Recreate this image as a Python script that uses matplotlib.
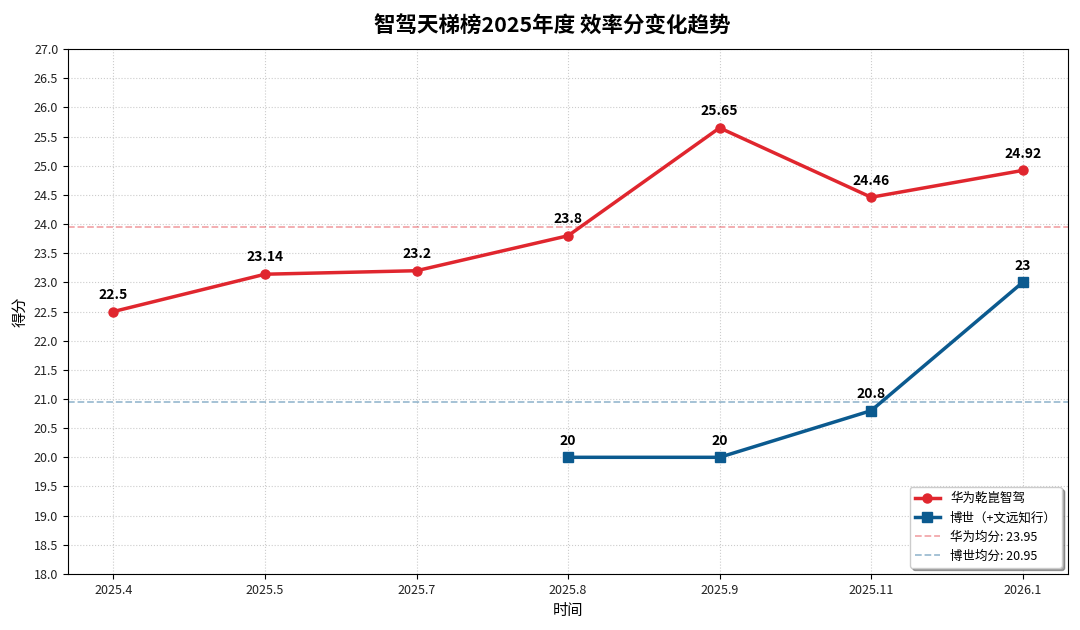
import matplotlib
matplotlib.use("Agg")
import matplotlib.pyplot as plt
import numpy as np

plt.rcParams['font.family'] = ['Noto Sans CJK SC', 'DejaVu Sans']

periods = ["2025.4", "2025.5", "2025.7", "2025.8", "2025.9", "2025.11", "2026.1"]
huawei = [22.5, 23.14, 23.2, 23.8, 25.65, 24.46, 24.92]
bosch = [np.nan, np.nan, np.nan, 20.0, 20.0, 20.8, 23.0]
huawei_label = "华为乾崑智驾"
bosch_label = "博世（+文远知行）"
huawei_avg = 23.95
bosch_avg = 20.95

red = '#e0262e'
blue = '#0b5a8f'

fig = plt.figure(figsize=(10.8, 6.3), dpi=100)
ax = fig.add_axes([0.063, 0.089, 0.926, 0.833])
x = np.arange(len(periods))

ax.plot(x, huawei, color=red, lw=2.5, marker='o', ms=6.5, label=huawei_label, zorder=3)
ax.plot(x, bosch, color=blue, lw=2.5, marker='s', ms=6.5, label=bosch_label, zorder=3)
ax.axhline(huawei_avg, color=red, ls='--', lw=1.3, alpha=0.4, label=f"华为均分: {huawei_avg}")
ax.axhline(bosch_avg, color=blue, ls='--', lw=1.3, alpha=0.4, label=f"博世均分: {bosch_avg}")

def fmt(v):
    return f"{v:g}"

for xi, v in zip(x, huawei):
    ax.annotate(fmt(v), (xi, v), xytext=(0, 7), textcoords='offset points',
                ha='center', va='bottom', fontsize=10, fontweight='bold')
for xi, v in zip(x, bosch):
    if not np.isnan(v):
        ax.annotate(fmt(v), (xi, v), xytext=(0, 7), textcoords='offset points',
                    ha='center', va='bottom', fontsize=10, fontweight='bold')

ax.set_xticks(x)
ax.set_xticklabels(periods)
ax.set_xlim(-0.3, 6.3)
ax.set_ylim(18, 27)
ax.set_yticks(np.arange(18, 27.01, 0.5))
ax.yaxis.set_major_formatter(matplotlib.ticker.FormatStrFormatter('%.1f'))
ax.tick_params(labelsize=9, labelcolor='#222222')
ax.grid(True, ls=':', color='#cccccc', lw=0.8)
ax.set_axisbelow(True)
ax.set_xlabel("时间", fontsize=11)
ax.set_ylabel("得分", fontsize=11)
ax.set_title("智驾天梯榜2025年度 效率分变化趋势", fontsize=15.5, fontweight='bold', pad=12, x=0.484)
ax.legend(loc='lower right', fontsize=9, shadow=True, frameon=True)

fig.savefig("out.png", dpi=100)
